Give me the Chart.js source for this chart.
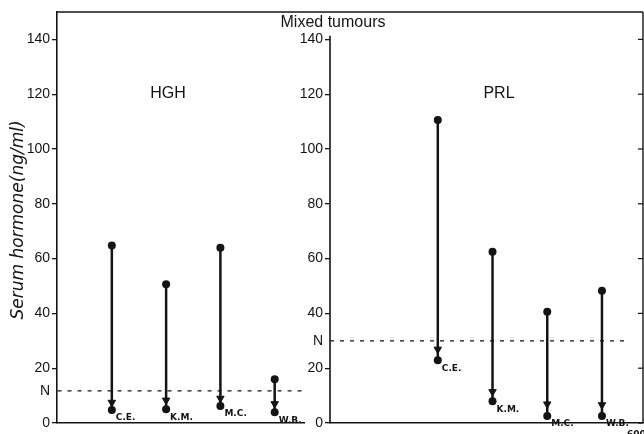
<!DOCTYPE html>
<html>
<head>
<meta charset="utf-8">
<script src="https://cdn.jsdelivr.net/npm/chart.js@4.4.1/dist/chart.umd.min.js"></script>
<style>
  html, body { margin: 0; padding: 0; background: #fff; }
  #wrap { position: relative; width: 644px; height: 434px; overflow: hidden; }
  canvas { position: absolute; left: 0; top: 0; }
</style>
</head>
<body>
<div id="wrap">
  <canvas id="hgh" width="644" height="434"></canvas>
  <canvas id="prl" width="660" height="434"></canvas>
</div>
<script>
// ---- data ----
const categories = ['C.E.', 'K.M.', 'M.C.', 'W.B.'];
const hghBefore = [64.8, 50.6, 64.0, 16.0];
const hghArrow  = [7.5, 8.3, 9.0, 7.0];
const hghAfter  = [4.7, 5.0, 6.2, 3.9];
const prlBefore = [110.6, 62.5, 40.6, 48.3];
const prlArrow  = [26.9, 11.4, 6.9, 6.6];
const prlAfter  = [22.9, 7.9, 2.6, 2.6];
const hghNormal = 11.7;
const prlNormal = 30;
const yTickValues = [0, 20, 40, 60, 80, 100, 120, 140];
const panelTitles = ['HGH', 'PRL'];
const figureTitle = 'Mixed tumours';
const yAxisTitle = 'Serum hormone(ng/ml)';

const ink = '#141414';
const tickFont = { family: 'Liberation Sans, Arial, sans-serif', size: 14 };

function buildDatasets(before, arrow, after, normal, normalFrom, normalTo) {
  const ds = categories.map((c, i) => ({
    type: 'line',
    label: c,
    data: [{ x: i, y: before[i] }, { x: i, y: after[i] }],
    borderColor: ink,
    borderWidth: 2.5,
    pointRadius: 4,
    pointBackgroundColor: ink,
    pointBorderWidth: 0,
    showLine: true,
    order: 2
  }));
  ds.push({
    type: 'scatter',
    label: 'arrows',
    data: categories.map((c, i) => ({ x: i, y: arrow[i] })),
    pointStyle: 'triangle',
    rotation: 180,
    pointRadius: 4.3,
    backgroundColor: ink,
    borderColor: ink,
    borderWidth: 1,
    order: 1
  });
  ds.push({
    type: 'line',
    label: 'N',
    data: [{ x: normalFrom, y: normal }, { x: normalTo, y: normal }],
    borderColor: ink,
    borderWidth: 1.2,
    borderDash: [4, 6],
    pointRadius: 0,
    order: 3
  });
  return ds;
}

function yScale(width, showBorder) {
  return {
    min: 0, max: 150,
    afterBuildTicks: s => { s.ticks = yTickValues.map(v => ({ value: v })); },
    afterFit: s => { s.width = width; s.paddingLeft = 0; s.paddingRight = 0; },
    ticks: { color: ink, font: tickFont, padding: 2, callback: v => String(v) },
    grid: { drawOnChartArea: false, drawTicks: true, tickLength: 5, color: ink, lineWidth: 1.3 },
    border: { display: showBorder, color: ink, width: 1.6 }
  };
}
function xScale(min, max) {
  return {
    type: 'linear', min: min, max: max,
    afterFit: s => { s.height = 0; s.paddingLeft = 0; s.paddingRight = 0; },
    ticks: { display: false },
    grid: { display: false, drawTicks: false },
    border: { display: true, color: ink, width: 1.6 }
  };
}

function decorations(panelIndex, normal, after) {
  return {
    id: 'decor' + panelIndex,
    afterDraw(chart) {
      const ctx = chart.ctx;
      const ca = chart.chartArea;
      const xs = chart.scales.x, ys = chart.scales.y;
      ctx.save();
      ctx.fillStyle = ink;
      ctx.strokeStyle = ink;
      // panel title
      ctx.font = '16px Liberation Sans, Arial, sans-serif';
      ctx.textAlign = 'center';
      ctx.textBaseline = 'middle';
      const tx = panelIndex === 0 ? 168 : 499;
      ctx.fillText(panelTitles[panelIndex], tx, ys.getPixelForValue(120.3));
      // N label
      ctx.font = '14px Liberation Sans, Arial, sans-serif';
      ctx.textAlign = 'right';
      ctx.fillText('N', ca.left - 7, ys.getPixelForValue(normal));
      // category labels
      ctx.font = 'bold 9px DejaVu Sans, sans-serif';
      ctx.textAlign = 'left';
      categories.forEach((c, i) => {
        ctx.fillText(c, xs.getPixelForValue(i) + 4, ys.getPixelForValue(after[i]) + 8);
      });
      if (panelIndex === 0) {
        // y axis title
        ctx.save();
        ctx.translate(19, 220);
        ctx.rotate(-Math.PI / 2);
        ctx.font = 'oblique 17px DejaVu Sans, sans-serif';
        ctx.textAlign = 'center';
        ctx.textBaseline = 'middle';
        ctx.fillText(yAxisTitle, 0, 0);
        ctx.restore();
      } else {
        // left axis of right panel: starts just above the 140 tick
        ctx.lineWidth = 1.6;
        ctx.beginPath();
        ctx.moveTo(ca.left, ys.getPixelForValue(141.3));
        ctx.lineTo(ca.left, ca.bottom);
        ctx.stroke();
        // top frame line across both panels
        ctx.lineWidth = 1.4;
        ctx.beginPath();
        ctx.moveTo(57, ca.top);
        ctx.lineTo(ca.right, ca.top);
        ctx.stroke();
        // right frame with inward ticks
        ctx.beginPath();
        ctx.moveTo(ca.right, ca.top);
        ctx.lineTo(ca.right, ca.bottom);
        ctx.stroke();
        ctx.lineWidth = 1.2;
        yTickValues.forEach(v => {
          const y = ys.getPixelForValue(v);
          ctx.beginPath();
          ctx.moveTo(ca.right - 5, y);
          ctx.lineTo(ca.right, y);
          ctx.stroke();
        });
        // figure title
        ctx.font = '16px Liberation Sans, Arial, sans-serif';
        ctx.textAlign = 'center';
        ctx.textBaseline = 'alphabetic';
        ctx.fillText(figureTitle, 333, 27);
        // cut-off page number
        ctx.font = 'bold 9px DejaVu Sans, sans-serif';
        ctx.textAlign = 'left';
        ctx.fillText('600', 627, 437);
      }
      ctx.restore();
    }
  };
}

const common = {
  responsive: false,
  animation: false,
  events: [],
  plugins: { legend: { display: false }, tooltip: { enabled: false }, title: { display: false } }
};

new Chart(document.getElementById('hgh'), {
  type: 'scatter',
  data: { datasets: buildDatasets(hghBefore, hghArrow, hghAfter, hghNormal, -1.0, 3.5) },
  options: Object.assign({}, common, {
    layout: { padding: { left: 0, right: 340, top: 12, bottom: 11 } },
    scales: { x: xScale(-1.01, 3.54), y: yScale(57, true) }
  }),
  plugins: [decorations(0, hghNormal, hghAfter)]
});

new Chart(document.getElementById('prl'), {
  type: 'scatter',
  data: { datasets: buildDatasets(prlBefore, prlArrow, prlAfter, prlNormal, -1.97, 3.42) },
  options: Object.assign({}, common, {
    layout: { padding: { left: 0, right: 17, top: 12, bottom: 11 } },
    scales: { x: xScale(-1.97, 3.75), y: yScale(330, false) }
  }),
  plugins: [decorations(1, prlNormal, prlAfter)]
});
</script>
</body>
</html>
